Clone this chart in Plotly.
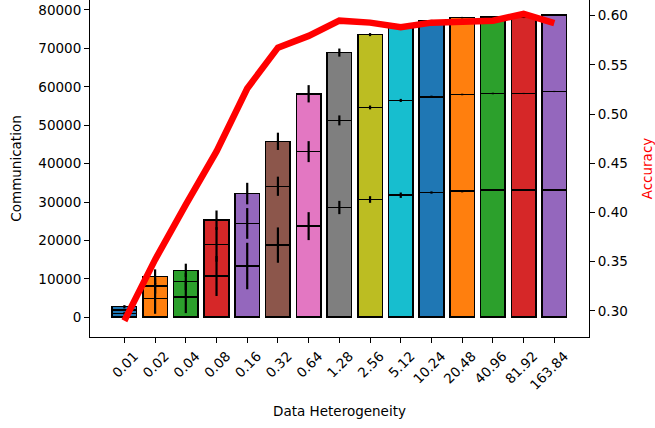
import plotly.graph_objects as go
import numpy as np

categories = ["0.01", "0.02", "0.04", "0.08", "0.16", "0.32", "0.64", "1.28", "2.56",
              "5.12", "10.24", "20.48", "40.96", "81.92", "163.84"]

# three stacked communication segments (bottom, middle, top)
seg1 = [1000, 4900, 5270, 10730, 13330, 18780, 23720, 28570, 30650, 31770, 32470, 32810, 33070, 33070, 33070]
seg2 = [900, 3240, 4000, 8230, 11090, 15320, 19400, 22680, 23970, 24680, 24930, 25190, 25190, 25190, 25710]
seg3 = [850, 2420, 2930, 6310, 7780, 11700, 15060, 17660, 18970, 19550, 19830, 20000, 19920, 19840, 19920]
err1 = [300, 4000, 4200, 5200, 6050, 4600, 3640, 1730, 870, 700, 300, 300, 200, 150, 150]
err2 = [300, 2000, 2200, 4500, 4000, 2500, 2730, 1300, 500, 400, 300, 200, 200, 150, 150]
err3 = [400, 1900, 1740, 2520, 2800, 2250, 2250, 1050, 400, 300, 200, 200, 200, 200, 200]

accuracy = [0.290, 0.352, 0.408, 0.462, 0.526, 0.5675, 0.5794, 0.5949, 0.5929, 0.5882,
            0.5929, 0.5943, 0.5949, 0.6017, 0.5923]

tab10 = ["#1f77b4", "#ff7f0e", "#2ca02c", "#d62728", "#9467bd", "#8c564b", "#e377c2",
         "#7f7f7f", "#bcbd22", "#17becf"]
colors = [tab10[i % 10] for i in range(len(categories))]

FONT = "DejaVu Sans"
fig = go.Figure()

for seg in (seg1, seg2, seg3):
    fig.add_trace(go.Bar(
        x=categories, y=seg, width=0.8,
        marker=dict(color=colors, line=dict(color="black", width=1.5)),
        showlegend=False, yaxis="y"))

cum = np.cumsum(np.array([seg1, seg2, seg3]), axis=0)
for level, err in zip(cum, (err1, err2, err3)):
    fig.add_trace(go.Scatter(
        x=categories, y=level, mode="markers",
        marker=dict(size=1, color="rgba(0,0,0,0)"),
        error_y=dict(type="data", array=err, visible=True, color="black",
                     thickness=2.2, width=0),
        showlegend=False, yaxis="y", hoverinfo="skip"))

fig.add_trace(go.Scatter(
    x=categories, y=accuracy, mode="lines",
    line=dict(color="#ff0000", width=6.5),
    showlegend=False, yaxis="y2"))

axis_common = dict(showline=True, linecolor="black", linewidth=1.1, ticks="outside",
                   ticklen=5, tickwidth=1.1, tickcolor="black", showgrid=False,
                   zeroline=False, tickfont=dict(family=FONT, size=13.5, color="black"))

fig.update_layout(
    width=655, height=428,
    margin=dict(l=90, r=66, t=0, b=90.5),
    plot_bgcolor="white", paper_bgcolor="white",
    barmode="stack",
    font=dict(family=FONT, size=13.5, color="black"),
    xaxis=dict(type="category", range=[-1.12, 15.13], tickangle=-45, ticklabelshift=10,
               title=dict(text="Data Heterogeneity", font=dict(family=FONT, size=13.5), standoff=14),
               **axis_common),
    yaxis=dict(range=[-5150, 82600], tickvals=[0, 10000, 20000, 30000, 40000, 50000, 60000, 70000, 80000],
               tickformat="d",
               title=dict(text="Communication", font=dict(family=FONT, size=13.5), standoff=13),
               **axis_common),
    yaxis2=dict(overlaying="y", side="right", range=[0.2734, 0.6159],
                tickvals=[0.30, 0.35, 0.40, 0.45, 0.50, 0.55, 0.60], tickformat=".2f",
                title=dict(text="Accuracy", font=dict(family=FONT, size=13.5, color="#ff0000"), standoff=19),
                **axis_common),
)

fig.write_html("out.html")
